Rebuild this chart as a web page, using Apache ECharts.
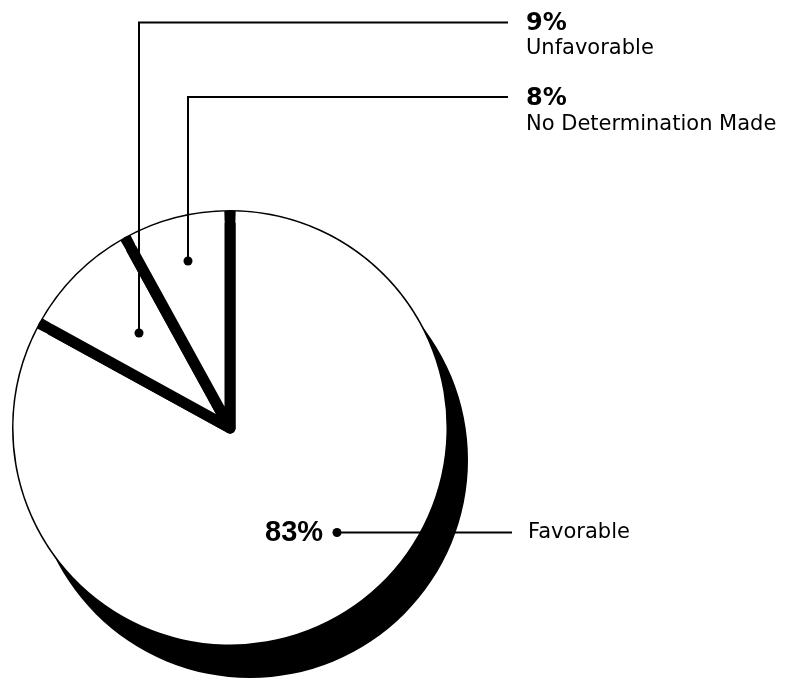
<!DOCTYPE html>
<html><head><meta charset="utf-8">
<script src="https://cdn.jsdelivr.net/npm/echarts@6/dist/echarts.min.js"></script>
<style>html,body{margin:0;padding:0;background:#fff}#c{width:785px;height:680px}</style>
</head><body><div id="c"></div>
<script>
// ---- data ----
const categories = ['Favorable', 'Unfavorable', 'No Determination Made'];
const values = [83, 9, 8];

// ---- layout (pixels) ----
const CX = 230, CY = 428, R = 218;
const SHADOW_DX = 20, SHADOW_DY = 32;
const GAP = 11;
const anchors = [[337, 532.5], [139, 333], [188, 261]];
const leaderY = [532.5, 22.5, 97];
const leaderEndX = [512, 508, 508];
const labelPos = [[265, 517.5], [526, 10.5], [526, 86]];

const data = categories.map((n, i) => ({ name: n, value: values[i] }));

const chart = echarts.init(document.getElementById('c'), null, { renderer: 'canvas' });
const base = {
  type: 'pie', center: [CX, CY], startAngle: 90, clockwise: true, silent: true,
  animation: false, emphasis: { disabled: true }, label: { show: false },
  labelLine: { show: false }, data: data
};

const option = {
  animation: false,
  series: [
    Object.assign({}, base, { z: 1, radius: R, center: [CX + SHADOW_DX, CY + SHADOW_DY], itemStyle: { color: '#000' } }),
    Object.assign({}, base, { z: 2, radius: R - GAP / 2, itemStyle: { color: '#fff', borderColor: '#000', borderWidth: GAP, borderJoin: 'round' } }),
    Object.assign({}, base, { z: 3, radius: [R - GAP - 1.5, R - 1.5], padAngle: 3, itemStyle: { color: '#fff', borderWidth: 0 } }),
    Object.assign({}, base, {
      z: 10,
      radius: R, itemStyle: { color: 'rgba(0,0,0,0)' },
      avoidLabelOverlap: false,
      label: {
        show: true, position: 'outside',
        formatter: function (p) {
          if (p.dataIndex === 0) return '{big|' + p.value + '%}{fav|' + p.name + '}';
          return '{pct|' + p.value + '%}\n{name|' + p.name + '}';
        },
        rich: {
          pct: { fontFamily: 'DejaVu Sans', fontWeight: 'bold', fontSize: 24, lineHeight: 26, color: '#000' },
          name: { fontFamily: 'DejaVu Sans', fontSize: 21, lineHeight: 25, color: '#000' },
          big: { fontFamily: 'Liberation Sans', fontWeight: 'bold', fontSize: 29, lineHeight: 30, width: 263, color: '#000' },
          fav: { fontFamily: 'DejaVu Sans', fontSize: 21, lineHeight: 30, color: '#000' }
        }
      },
      labelLine: { show: true, showAbove: true, lineStyle: { color: '#000', width: 2 } },
      labelLayout: function (params) {
        const i = params.dataIndex;
        const a = anchors[i];
        return {
          x: labelPos[i][0], y: labelPos[i][1], align: 'left', verticalAlign: 'top',
          labelLinePoints: i === 0
            ? [[a[0], a[1]], [(a[0] + leaderEndX[i]) / 2, leaderY[i]], [leaderEndX[i], leaderY[i]]]
            : [[a[0], a[1]], [a[0], leaderY[i]], [leaderEndX[i], leaderY[i]]]
        };
      }
    })
  ],
  graphic: anchors.map(a => ({ type: 'circle', shape: { cx: a[0], cy: a[1], r: 4.5 }, style: { fill: '#000' }, z: 100 }))
};
chart.setOption(option);
</script>
</body></html>
